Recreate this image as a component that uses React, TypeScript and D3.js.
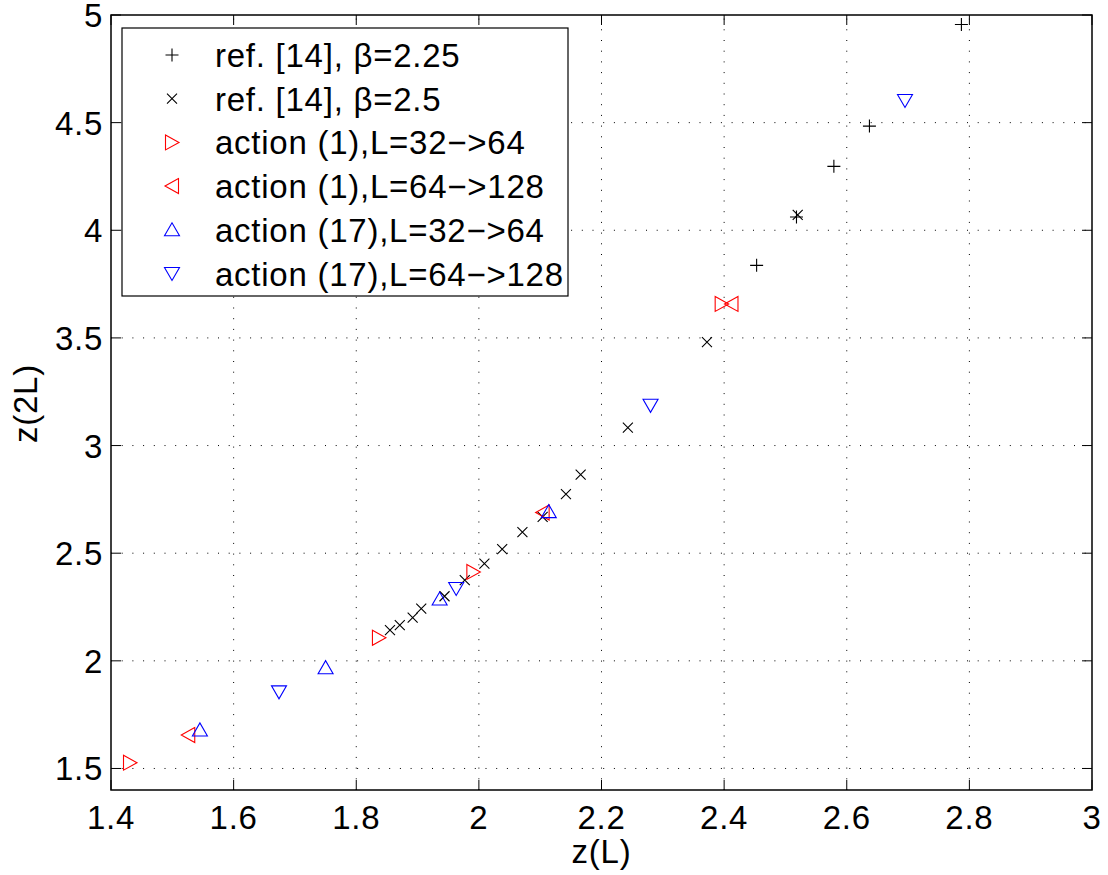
import React from "react";
import * as d3 from "d3";

const beta225X = [2.453, 2.518, 2.579, 2.637, 2.787];
const beta225Y = [3.837, 4.062, 4.297, 4.484, 4.956];

const beta25X = [1.855, 1.871, 1.892, 1.906, 1.944, 1.977, 2.009, 2.038, 2.071, 2.104, 2.142, 2.166, 2.243, 2.372, 2.52];
const beta25Y = [2.143, 2.166, 2.201, 2.242, 2.3, 2.375, 2.452, 2.519, 2.598, 2.669, 2.774, 2.865, 3.083, 3.48, 4.072];

const act1a32X = [1.431, 1.837, 1.991, 2.396];
const act1a32Y = [1.527, 2.107, 2.413, 3.658];

const act1a64X = [1.526, 2.104, 2.412];
const act1a64Y = [1.655, 2.689, 3.658];

const act17a32X = [1.545, 1.75, 1.936, 2.114];
const act17a32Y = [1.679, 1.968, 2.287, 2.693];

const act17a64X = [1.674, 1.963, 2.28, 2.695];
const act17a64Y = [1.856, 2.336, 3.187, 4.603];

const xTicks = [1.4, 1.6, 1.8, 2, 2.2, 2.4, 2.6, 2.8, 3];
const yTicks = [1.5, 2, 2.5, 3, 3.5, 4, 4.5, 5];

const legendLabels = [
  "ref. [14], \u03B2=2.25",
  "ref. [14], \u03B2=2.5",
  "action (1),L=32\u2212>64",
  "action (1),L=64\u2212>128",
  "action (17),L=32\u2212>64",
  "action (17),L=64\u2212>128",
];

const FONT = "'Liberation Sans', Arial, Helvetica, sans-serif";
const FS = 33;
const LS = 0.75;

const W = 1108;
const H = 875;
const left = 111;
const right = 1092;
const top = 15;
const bottom = 790;

const markerPaths: Record<string, string> = {
  plus: "M -6.5 0 L 6.5 0 M 0 -6.5 L 0 6.5",
  cross: "M -5 -5 L 5 5 M -5 5 L 5 -5",
  right: "M -6.5 -7.5 L 7 0 L -6.5 7.5 Z",
  left: "M 6.5 -7.5 L -7 0 L 6.5 7.5 Z",
  up: "M -7.5 6 L 7.5 6 L 0 -7 Z",
  down: "M -7.5 -6 L 7.5 -6 L 0 7 Z",
};

const series = [
  { xs: beta225X, ys: beta225Y, shape: "plus", color: "#000000" },
  { xs: beta25X, ys: beta25Y, shape: "cross", color: "#000000" },
  { xs: act1a32X, ys: act1a32Y, shape: "right", color: "#ff0000" },
  { xs: act1a64X, ys: act1a64Y, shape: "left", color: "#ff0000" },
  { xs: act17a32X, ys: act17a32Y, shape: "up", color: "#0000ff" },
  { xs: act17a64X, ys: act17a64Y, shape: "down", color: "#0000ff" },
];

export default function App() {
  const x = d3.scaleLinear().domain([1.4, 3]).range([left, right]);
  const y = d3.scaleLinear().domain([1.4, 5]).range([bottom, top]);
  const fmt = (v: number) => String(v);

  const legX = 122;
  const legY = 28;
  const legW = 446;
  const legH = 268;
  const rowY0 = 55;
  const rowStep = 43.7;

  return (
    <svg
      width={W}
      height={H}
      style={{ position: "fixed", left: 0, top: 0, background: "#fff" }}
    >
      <rect x={0} y={0} width={W} height={H} fill="#fff" />
      {/* grid */}
      <g stroke="#000" strokeWidth={1} strokeDasharray="1 9.7" fill="none">
        {xTicks
          .filter((t) => t > 1.4 && t < 3)
          .map((t) => (
            <line key={"gx" + t} x1={x(t)} x2={x(t)} y1={bottom} y2={top} />
          ))}
        {yTicks
          .filter((t) => t < 5)
          .map((t) => (
            <line key={"gy" + t} x1={left} x2={right} y1={y(t)} y2={y(t)} />
          ))}
      </g>
      {/* ticks */}
      <g stroke="#000" strokeWidth={1}>
        {xTicks.map((t) => (
          <g key={"tx" + t}>
            <line x1={x(t)} x2={x(t)} y1={bottom} y2={bottom - 10} />
            <line x1={x(t)} x2={x(t)} y1={top} y2={top + 10} />
          </g>
        ))}
        {yTicks.map((t) => (
          <g key={"ty" + t}>
            <line x1={left} x2={left + 10} y1={y(t)} y2={y(t)} />
            <line x1={right} x2={right - 10} y1={y(t)} y2={y(t)} />
          </g>
        ))}
      </g>
      {/* axes box */}
      <rect
        x={left}
        y={top}
        width={right - left}
        height={bottom - top}
        fill="none"
        stroke="#000"
        strokeWidth={1.5}
      />
      {/* tick labels */}
      <g fontFamily={FONT} fontSize={FS} fill="#000" letterSpacing={LS}>
        {xTicks.map((t) => (
          <text key={"lx" + t} x={x(t)} y={829} textAnchor="middle">
            {fmt(t)}
          </text>
        ))}
        {yTicks.map((t) => (
          <text
            key={"ly" + t}
            x={103}
            y={y(t) + 12}
            textAnchor="end"
          >
            {fmt(t)}
          </text>
        ))}
        <text x={(left + right) / 2} y={863} textAnchor="middle">
          z(L)
        </text>
        <text
          transform={`translate(37, ${(top + bottom) / 2 + 1}) rotate(-90)`}
          textAnchor="middle"
        >
          z(2L)
        </text>
      </g>
      {/* data */}
      {series.map((s, si) => (
        <g key={"s" + si} stroke={s.color} strokeWidth={1.1} fill="none">
          {s.xs.map((xv, i) => (
            <path
              key={i}
              d={markerPaths[s.shape]}
              transform={`translate(${x(xv)}, ${y(s.ys[i])})`}
            />
          ))}
        </g>
      ))}
      {/* legend */}
      <rect
        x={legX}
        y={legY}
        width={legW}
        height={legH}
        fill="#fff"
        stroke="#000"
        strokeWidth={1.2}
      />
      {series.map((s, i) => (
        <g key={"leg" + i}>
          <path
            d={markerPaths[s.shape]}
            transform={`translate(172, ${rowY0 + i * rowStep})`}
            stroke={s.color}
            strokeWidth={1.1}
            fill="none"
          />
          <text
            x={215}
            y={rowY0 + i * rowStep + 12}
            fontFamily={FONT}
            fontSize={FS}
            letterSpacing={LS}
            fill="#000"
          >
            {legendLabels[i]}
          </text>
        </g>
      ))}
    </svg>
  );
}
